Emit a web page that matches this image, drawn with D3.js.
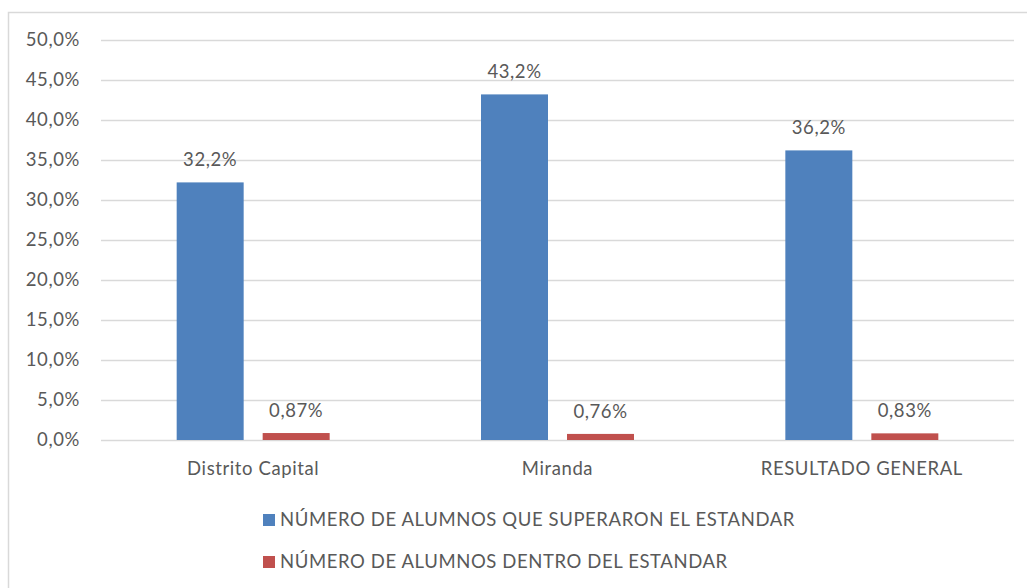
<!DOCTYPE html>
<html><head><meta charset="utf-8">
<script src="https://cdn.jsdelivr.net/npm/d3@7"></script>
<style>body{margin:0;background:#fff;} svg{display:block;}</style>
</head><body>
<svg id="c" width="1027" height="588"></svg>
<script>
const categories = ["Distrito Capital", "Miranda", "RESULTADO GENERAL"];
const seriesNames = ["NÚMERO DE ALUMNOS QUE SUPERARON EL ESTANDAR", "NÚMERO DE ALUMNOS DENTRO DEL ESTANDAR"];
const superaron = [32.2, 43.2, 36.2];
const dentro = [0.87, 0.76, 0.83];
const superaronLabels = ["32,2%", "43,2%", "36,2%"];
const dentroLabels = ["0,87%", "0,76%", "0,83%"];
const yTicks = [0, 5, 10, 15, 20, 25, 30, 35, 40, 45, 50];
const colors = ["#4F81BD", "#C0504D"];

const svg = d3.select("#c");
const font = "Lato, 'Open Sans', sans-serif";
const textColor = "#595959";
const fs = 18.5, ls = "0.6px";

// border
svg.append("path").attr("d", "M8.5,588 V12.5 H1027").attr("fill", "none").attr("stroke", "#d9d9d9").attr("stroke-width", 1.5);

const x0 = 101, x1 = 1014, yTop = 40, yBot = 440;
const y = d3.scaleLinear().domain([0, 50]).range([yBot, yTop]);
const x = d3.scaleBand().domain(categories).range([x0, x1]).paddingInner(0).paddingOuter(0);
const inner = d3.scaleBand().domain([0, 1]).range([0, x.bandwidth()]).paddingInner(0.221).paddingOuter(0.88);

function txt(sel) {
  return sel.attr("font-family", font).attr("font-size", fs).attr("letter-spacing", ls).attr("fill", textColor);
}

// grid
svg.append("g").selectAll("line").data(yTicks).join("line")
  .attr("x1", x0).attr("x2", x1)
  .attr("y1", d => y(d) + 0.5).attr("y2", d => y(d) + 0.5)
  .attr("stroke", "#d9d9d9").attr("stroke-width", 1.5);

// y labels
txt(svg.append("g").selectAll("text").data(yTicks).join("text")
  .attr("x", 80).attr("y", d => y(d)).attr("dy", "0.35em")
  .attr("text-anchor", "end"))
  .text(d => d.toFixed(1).replace(".", ",") + "%");

const series = [superaron, dentro];
const labels = [superaronLabels, dentroLabels];
series.forEach((vals, si) => {
  const g = svg.append("g");
  g.selectAll("rect").data(vals).join("rect")
    .attr("x", (d, i) => x(categories[i]) + inner(si))
    .attr("width", inner.bandwidth())
    .attr("y", d => y(d))
    .attr("height", d => yBot - y(d))
    .attr("fill", colors[si]);
  txt(g.selectAll("text").data(vals).join("text")
    .attr("x", (d, i) => x(categories[i]) + inner(si) + inner.bandwidth() / 2)
    .attr("y", d => y(d) - 16)
    .attr("text-anchor", "middle"))
    .text((d, i) => labels[si][i]);
});

// x labels
txt(svg.append("g").selectAll("text").data(categories).join("text")
  .attr("x", d => x(d) + x.bandwidth() / 2).attr("y", 475)
  .attr("text-anchor", "middle"))
  .text(d => d);

// legend
const leg = svg.append("g");
seriesNames.forEach((n, i) => {
  const ly = 520 + i * 42;
  leg.append("rect").attr("x", 263).attr("y", ly - 6).attr("width", 12).attr("height", 12).attr("fill", colors[i]);
  txt(leg.append("text").attr("x", 280).attr("y", ly).attr("dy", "0.35em")).text(n);
});
</script>
</body></html>
